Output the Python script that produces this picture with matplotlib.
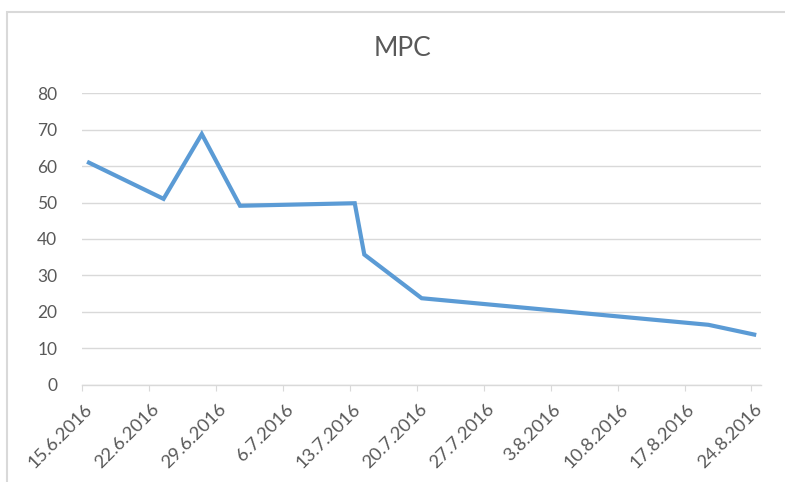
import datetime as dt
import matplotlib
matplotlib.use("Agg")
import matplotlib.pyplot as plt
import matplotlib.transforms as mtransforms
from matplotlib.patches import Rectangle

# MPC readings
dates = ["15.6.2016", "23.6.2016", "27.6.2016", "1.7.2016", "13.7.2016",
         "14.7.2016", "20.7.2016", "19.8.2016", "24.8.2016"]
mpc = [61.2, 51.0, 68.8, 49.1, 49.8, 35.7, 23.7, 16.4, 13.6]

y_ticks = [0, 10, 20, 30, 40, 50, 60, 70, 80]
x_start = "15.6.2016"
x_end = "24.8.2016"


def parse(s):
    return dt.datetime.strptime(s, "%d.%m.%Y")


def fmt(d):
    return f"{d.day}.{d.month}.{d.year}"


grey_text = "#595959"
grid_col = "#D9D9D9"
line_col = "#5B9BD5"

plt.rcParams.update({
    "font.family": ["Lato", "DejaVu Sans"],
    "font.size": 12.5,
})

fig = plt.figure(figsize=(7.85, 4.82), dpi=100)
# chart-area border (only top and left edges are visible in the crop)
fig.patches.append(Rectangle((7 / 785, -0.1), 1.2, 1.1 - 12 / 482,
                             transform=fig.transFigure, fill=False,
                             edgecolor=grid_col, linewidth=1.5))

ax = fig.add_axes([82.3 / 785, 97.5 / 482, (761 - 82.3) / 785, (384.5 - 93.3) / 482])

# Excel date axis: points sit in the middle of each day slot
x = [parse(d) + dt.timedelta(hours=12) for d in dates]
ax.plot(x, mpc, color=line_col, linewidth=3.0, solid_joinstyle="miter",
        solid_capstyle="butt")

start = parse(x_start)
end = parse(x_end)
ax.set_xlim(start, end + dt.timedelta(days=1))
ax.set_ylim(0, 80)

week_ticks = []
d = start
while d <= end:
    week_ticks.append(d)
    d += dt.timedelta(days=7)
ax.set_xticks(week_ticks)
ax.set_xticklabels([fmt(t) for t in week_ticks])
ax.set_yticks(y_ticks)

ax.grid(axis="y", color=grid_col, linewidth=1)
ax.set_axisbelow(True)
for side in ["top", "right", "left"]:
    ax.spines[side].set_visible(False)
ax.spines["bottom"].set_color(grid_col)
ax.spines["bottom"].set_linewidth(1)

ax.tick_params(axis="y", length=0, pad=18, labelcolor=grey_text, labelsize=12.5)
ax.tick_params(axis="x", length=4, color=grid_col, direction="out", pad=8,
               labelcolor=grey_text, labelsize=13.2)

offset = mtransforms.ScaledTranslation(2 / 100, 0, fig.dpi_scale_trans)
for lab in ax.get_xticklabels():
    lab.set_rotation(45)
    lab.set_rotation_mode("anchor")
    lab.set_ha("right")
    lab.set_va("top")
    lab.set_transform(lab.get_transform() + offset)

fig.text(402 / 785, 1 - 48.5 / 482, "MPC", ha="center", va="center",
         fontsize=19, color=grey_text)

fig.savefig("out.png", dpi=100)
